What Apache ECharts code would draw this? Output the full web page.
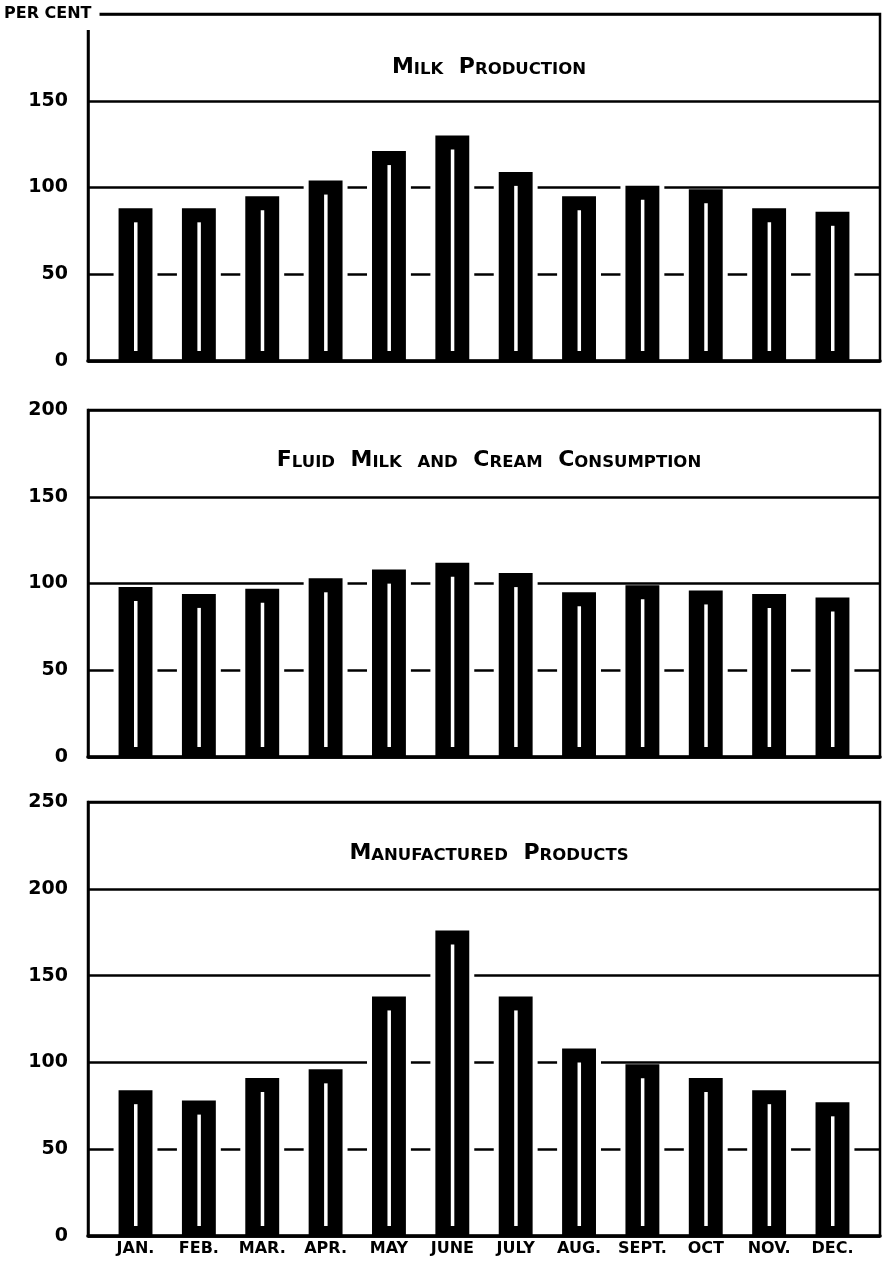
<!DOCTYPE html>
<html>
<head>
<meta charset="utf-8">
<script src="https://cdn.jsdelivr.net/npm/echarts@6/dist/echarts.min.js"></script>
<style>
html,body{margin:0;padding:0;background:#fff;}
#chart{width:887px;height:1262px;}
</style>
</head>
<body>
<div id="chart"></div>
<script>
// ---- data ----
var months = ['JAN.', 'FEB.', 'MAR.', 'APR.', 'MAY', 'JUNE', 'JULY', 'AUG.', 'SEPT.', 'OCT', 'NOV.', 'DEC.'];
var milkProduction = [88, 88, 95, 104, 121, 130, 109, 95, 101, 99, 88, 86];
var fluidConsumption = [98, 94, 97, 103, 108, 112, 106, 95, 99, 96, 94, 92];
var manufactured = [84, 78, 91, 96, 138, 176, 138, 108, 99, 91, 84, 77];
var titles = [['Milk', 'Production'], ['Fluid', 'Milk', 'and', 'Cream', 'Consumption'], ['Manufactured', 'Products']];
var yMax = [200, 200, 250];
var yInterval = 50;
var unitLabel = 'PER CENT';

// ---- layout ----
var FONT = '"DejaVu Sans", sans-serif';
var grids = [
  {left: 88, width: 792, top: 14, height: 347},
  {left: 88, width: 792, top: 410, height: 347},
  {left: 88, width: 792, top: 802, height: 434}
];
var titleY = [60, 453, 846];
var series = [milkProduction, fluidConsumption, manufactured];

function smallCaps(words) {
  return words.map(function (w) {
    var first = w.charAt(0).toUpperCase();
    var rest = w.slice(1).toUpperCase();
    if (w === 'and') return '{s|AND}';
    return '{b|' + first + '}' + (rest ? '{s|' + rest + '}' : '');
  }).join('{g| }');
}

function renderBar(params, api) {
  var x = api.value(0), v = api.value(1);
  var top = api.coord([x, v]);
  var base = api.coord([x, 0]);
  var bw = api.size([1, 0])[0] * 0.535;
  var h = base[1] - top[1];
  return {
    type: 'group',
    children: [
      {type: 'rect', shape: {x: top[0] - bw / 2 - 5, y: top[1], width: bw + 10, height: h - 3}, style: {fill: '#fff'}},
      {type: 'rect', shape: {x: top[0] - bw / 2, y: top[1], width: bw, height: h}, style: {fill: '#000'}},
      {type: 'rect', shape: {x: top[0] - 1.5, y: top[1] + 14, width: 3.5, height: Math.max(0, h - 24)}, style: {fill: '#fff'}}
    ]
  };
}

var option = {
  backgroundColor: '#fff',
  animation: false,
  title: titles.map(function (t, i) {
    return {
      text: smallCaps(t),
      left: 484,
      top: titleY[i] - 15,
      textAlign: 'center',
      textStyle: {
        rich: {
          b: {fontFamily: FONT, fontWeight: 'bold', fontSize: 22, color: '#000', verticalAlign: 'bottom', lineHeight: 28},
          s: {fontFamily: FONT, fontWeight: 'bold', fontSize: 16.5, color: '#000', verticalAlign: 'bottom', lineHeight: 28},
          g: {fontFamily: FONT, fontWeight: 'bold', fontSize: 16, color: '#000', verticalAlign: 'bottom', lineHeight: 28, padding: [0, 5, 0, 5]}
        }
      }
    };
  }),
  grid: grids.map(function (g) {
    return {left: g.left, width: g.width, top: g.top, height: g.height, show: true, borderColor: '#000', borderWidth: 2.5, backgroundColor: 'transparent'};
  }),
  xAxis: grids.map(function (g, i) {
    return {
      type: 'value', gridIndex: i, min: -0.75, max: 11.75,
      axisLine: {show: true, onZero: false, lineStyle: {color: '#000', width: 3.5}},
      axisTick: {show: false},
      splitLine: {show: false},
      axisLabel: i === 2 ? {
        show: true,
        customValues: months.map(function (m, k) { return k; }),
        formatter: function (v) { return months[Math.round(v)] || ''; },
        fontFamily: FONT, fontWeight: 'bold', fontSize: 16, color: '#000', margin: 5
      } : {show: false}
    };
  }),
  yAxis: grids.map(function (g, i) {
    return {
      type: 'value', gridIndex: i, min: 0, max: yMax[i], interval: yInterval,
      axisLine: {show: true, onZero: false, lineStyle: {color: '#000', width: 2.5}},
      axisTick: {show: false},
      splitLine: {show: true, lineStyle: {color: '#000', width: 2.5}},
      axisLabel: {
        fontFamily: FONT, fontWeight: 'bold', fontSize: 19, color: '#000', margin: 20,
        formatter: function (v) { return (i === 0 && v === yMax[0]) ? '' : String(v); }
      }
    };
  }),
  graphic: [{
    type: 'text', left: 2, top: 3, z: 100,
    style: {
      text: unitLabel, fontFamily: FONT, fontWeight: 'bold', fontSize: 16, fill: '#000',
      backgroundColor: '#fff', padding: [3, 8, 8, 2]
    }
  }],
  series: series.map(function (vals, i) {
    return {
      type: 'custom', xAxisIndex: i, yAxisIndex: i, z: 3,
      renderItem: renderBar,
      data: vals.map(function (v, k) { return [k, v]; })
    };
  })
};

var chart = echarts.init(document.getElementById('chart'), null, {renderer: 'canvas'});
chart.setOption(option);
</script>
</body>
</html>
